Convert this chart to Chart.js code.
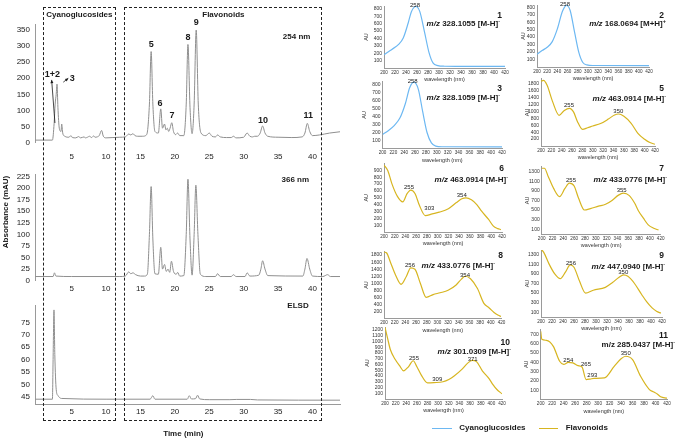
<!DOCTYPE html>
<html>
<head>
<meta charset="utf-8">
<script src="https://cdn.jsdelivr.net/npm/chart.js@4.4.1/dist/chart.umd.min.js"></script>
<style>
  body { margin: 0; background: #fff; }
  #page { position: relative; width: 678px; height: 440px; overflow: hidden; font-family: Arial, "Liberation Sans", sans-serif; color: #1a1a1a; }
  #page canvas { position: absolute; }
  .dashbox { position: absolute; border: 1px dashed #222; box-sizing: border-box; }
  .txt { position: absolute; font-weight: bold; font-size: 8px; line-height: 10px; white-space: nowrap; }
  .cap sup { font-size: 5.5px; vertical-align: 3px; line-height: 0; }
  .num { font-size: 8.5px; }
  .leg-line { position: absolute; height: 1.6px; }
</style>
</head>
<body>
<div id="page"></div>
<script>
// ---- chromatograms: retention time (min) / signal ----
const t254 = [-0.3, 2.2, 2.45, 2.6, 2.75, 2.87, 3.0, 3.2, 3.45, 3.55, 3.7, 4.0, 4.6, 4.9, 5.1, 5.6, 6.0, 6.3, 6.8, 7.0, 7.3, 7.6, 7.9, 8.2, 8.4, 8.7, 9.0, 9.35, 9.6, 10.0, 11.0, 12.0, 12.8, 13.3, 13.6, 13.9, 14.2, 14.6, 15.3, 15.9, 16.3, 16.55, 16.8, 17.1, 17.6, 17.95, 18.2, 18.5, 18.7, 18.9, 19.1, 19.3, 19.55, 19.8, 20.1, 20.4, 20.7, 21.3, 21.65, 21.9, 22.2, 22.5, 22.8, 23.1, 23.4, 23.8, 24.5, 25.0, 25.4, 25.9, 26.2, 26.6, 27.5, 28.2, 28.5, 28.9, 30.0, 30.5, 30.9, 31.3, 31.6, 32.0, 32.4, 32.75, 33.1, 33.5, 35, 37, 38.5, 38.9, 39.25, 39.6, 40.0, 41.0, 42.5, 44];
const a254 = [8, 8, 60, 120, 150, 182, 110, 45, 35, 58, 30, 20, 17, 22, 16, 15, 19, 15, 18, 15, 17, 20, 16, 21, 17, 18, 22, 38, 20, 15, 16, 17, 18, 27, 24, 28, 22, 20, 20, 25, 120, 283, 120, 35, 30, 105, 45, 58, 40, 45, 35, 45, 62, 35, 25, 30, 22, 22, 120, 305, 110, 28, 120, 350, 120, 30, 22, 30, 20, 18, 24, 18, 16, 16, 20, 15, 17, 30, 20, 18, 20, 20, 30, 52, 30, 20, 17, 16, 18, 30, 60, 35, 22, 24, 30, 34];

const t366 = [-0.3, 2.3, 2.5, 2.7, 5, 12, 12.8, 13.3, 13.6, 13.9, 14.3, 15.0, 15.6, 16.0, 16.3, 16.55, 16.8, 17.1, 17.6, 17.95, 18.2, 18.5, 18.75, 19.0, 19.25, 19.5, 19.8, 20.2, 20.4, 20.7, 21.3, 21.65, 21.9, 22.2, 22.5, 22.8, 23.05, 23.35, 23.7, 24.5, 25.9, 26.2, 26.6, 28.2, 28.5, 28.9, 30.2, 30.5, 30.9, 32.2, 32.5, 32.75, 33.1, 33.5, 38.6, 38.9, 39.2, 39.6, 40.0, 41.5, 42.2, 42.6, 44];
const a366 = [9, 9, 17, 10, 9, 9, 10, 19, 15, 17, 13, 10, 10, 14, 100, 203, 90, 15, 14, 72, 25, 35, 20, 25, 18, 42, 20, 14, 18, 10, 11, 100, 219, 90, 12, 100, 206, 100, 14, 9, 9, 15, 9, 9, 13, 9, 9, 17, 10, 12, 25, 43, 25, 11, 10, 25, 48, 25, 10, 9, 13, 9, 9];

const tElsd = [-0.3, 2.2, 2.3, 2.43, 2.55, 2.75, 3.0, 3.5, 10, 16.4, 16.8, 17.1, 21.8, 22.1, 22.4, 23.0, 23.3, 23.6, 25, 28, 29, 31, 32, 44];
const aElsd = [44, 44, 60, 80, 62, 48, 45.5, 44.3, 44, 44, 45.4, 44, 44, 45.4, 44.1, 44.2, 45.6, 44.1, 43.8, 43.8, 43.9, 43.9, 43.7, 43.6];

const timeTicks = [5, 10, 15, 20, 25, 30, 35, 40];
const ticks254 = [0, 50, 100, 150, 200, 250, 300, 350];
const ticks366 = [0, 25, 50, 75, 100, 125, 150, 175, 200, 225];
const ticksElsd = [45, 50, 55, 60, 65, 70, 75];

const peaks254 = [
  { x: 2.2, y: 213, s: '1+2' }, { x: 5.1, y: 200, s: '3' }, { x: 16.55, y: 306, s: '5' },
  { x: 17.85, y: 123, s: '6' }, { x: 19.6, y: 83, s: '7' }, { x: 21.9, y: 328, s: '8' },
  { x: 23.1, y: 372, s: '9' }, { x: 32.8, y: 70, s: '10' }, { x: 39.4, y: 83, s: '11' }
];
const arrows254 = [{ x0: 2.57, y0: 61, x1: 2.09, y1: 195 }, { x0: 3.78, y0: 188, x1: 4.51, y1: 200 }];

// ---- UV spectra: wavelength (nm) / AU ----
const wl1 = [200, 210, 220, 226, 235, 244, 250, 258, 265, 274, 282, 289, 298, 310, 340, 380, 420];
const au1 = [181, 230, 280, 316, 407, 610, 767, 835, 767, 475, 204, 69, 32, 24, 22, 22, 22];
const wl2 = [200, 210, 220, 230, 240, 250, 258, 265, 274, 282, 290, 298, 310, 420];
const au2 = [170, 220, 265, 340, 510, 745, 825, 760, 460, 200, 60, 28, 20, 18];
const wl3 = [200, 210, 222, 232, 242, 250, 258, 266, 274, 282, 290, 298, 310, 420];
const au3 = [175, 220, 290, 380, 560, 760, 830, 740, 460, 200, 70, 30, 22, 20];
const wl5 = [200, 205, 212, 222, 235, 245, 255, 263, 270, 280, 290, 300, 315, 330, 342, 350, 360, 374, 387, 400, 410, 420];
const au5 = [1880, 1900, 1750, 1300, 890, 1030, 1090, 980, 720, 484, 530, 580, 650, 780, 900, 927, 860, 658, 368, 194, 100, 50];
const wl6 = [200, 207, 215, 225, 235, 243, 250, 258, 266, 277, 290, 303, 320, 335, 345, 353, 363, 373, 382, 395, 404, 412, 418];
const au6 = [980, 900, 700, 520, 440, 560, 612, 560, 390, 240, 265, 290, 340, 430, 485, 500, 470, 400, 304, 183, 85, 50, 35];
const wl7 = [200, 205, 212, 222, 233, 243, 251, 260, 268, 279, 290, 305, 318, 330, 342, 351, 362, 372, 379, 388, 397, 407, 416];
const au7 = [1370, 1370, 1200, 950, 780, 950, 1060, 1000, 750, 500, 530, 580, 620, 700, 810, 850, 800, 640, 480, 330, 190, 120, 83];
const wl8 = [200, 205, 212, 222, 232, 242, 250, 258, 268, 279, 292, 305, 320, 335, 345, 352, 362, 375, 387, 397, 406, 414, 419];
const au8 = [1890, 1860, 1600, 1220, 970, 1200, 1440, 1400, 1000, 600, 680, 730, 800, 950, 1120, 1200, 1130, 850, 430, 300, 170, 90, 60];
const wl9 = [200, 205, 215, 225, 235, 245, 253, 260, 270, 281, 295, 317, 330, 342, 350, 358, 370, 383, 392, 402, 410, 418];
const au9 = [1420, 1350, 1100, 900, 800, 950, 1090, 1040, 750, 500, 560, 620, 720, 830, 880, 850, 700, 470, 320, 190, 120, 80];
const wl10 = [200, 205, 210, 219, 228, 235, 244, 253, 260, 268, 280, 292, 309, 320, 330, 345, 355, 364, 372, 383, 396, 403, 410, 420];
const au10 = [1245, 1050, 860, 690, 570, 490, 560, 665, 560, 420, 280, 285, 300, 340, 400, 520, 620, 670, 650, 490, 350, 250, 170, 90];
const wl11 = [200, 202, 210, 222, 233, 240, 248, 256, 265, 272, 279, 286, 293, 311, 328, 340, 348, 360, 374, 389, 397, 403, 409, 420];
const au11 = [735, 650, 638, 573, 412, 378, 400, 395, 365, 350, 215, 220, 228, 233, 358, 440, 466, 430, 250, 110, 80, 60, 29, 15];

const wlTicks = [200, 220, 240, 260, 280, 300, 320, 340, 360, 380, 400, 420];
const auTicks800 = [100, 200, 300, 400, 500, 600, 700, 800];
const auTicks1800 = [200, 400, 600, 800, 1000, 1200, 1400, 1600, 1800];
const auTicks900 = [100, 200, 300, 400, 500, 600, 700, 800, 900];
const auTicks1300 = [100, 300, 500, 700, 900, 1100, 1300];
const auTicks1200 = [100, 200, 300, 400, 500, 600, 700, 800, 900, 1000, 1100, 1200];
const auTicks700 = [100, 200, 300, 400, 500, 600, 700];

const pk1 = [{ x: 256.4, y: 853, s: '258' }];
const pk2 = [{ x: 255, y: 839, s: '258' }];
const pk3 = [{ x: 255.5, y: 844, s: '258' }];
const pk5 = [{ x: 254, y: 1188, s: '255' }, { x: 349.2, y: 994, s: '350' }];
const pk6 = [{ x: 246.6, y: 653, s: '255' }, { x: 284.5, y: 346, s: '303' }, { x: 344.9, y: 531, s: '354' }];
const pk7 = [{ x: 254.2, y: 1110, s: '255' }, { x: 347.9, y: 902, s: '355' }];
const pk8 = [{ x: 248.7, y: 1500, s: '256' }, { x: 351.7, y: 1236, s: '354' }];
const pk9 = [{ x: 254.5, y: 1131, s: '256' }, { x: 349.6, y: 923, s: '350' }];
const pk10 = [{ x: 254.5, y: 708, s: '255' }, { x: 298.3, y: 348, s: '309' }, { x: 364.9, y: 696, s: '371' }];
const pk11 = [{ x: 248.1, y: 426, s: '254' }, { x: 278.9, y: 379, s: '265' }, { x: 289.9, y: 256, s: '293' }, { x: 348.1, y: 498, s: '350' }];

const compoundNo = ['1', '2', '3', '5', '6', '7', '8', '9', '10', '11'];
const ionMass = ['328.1055', '168.0694', '328.1059', '463.0914', '463.0914', '433.0776', '433.0776', '447.0940', '301.0309', '285.0437'];
const ionForm = ['[M-H]', '[M+H]', '[M-H]', '[M-H]', '[M-H]', '[M-H]', '[M-H]', '[M-H]', '[M-H]', '[M-H]'];
const ionCharge = ['-', '+', '-', '-', '-', '-', '-', '-', '-', '-'];

const BLUE = '#6db8f2';
const GOLD = '#d7b520';
const TRACE = '#8f8f8f';
const AXIS = '#9a9a9a';
const FONT = 'Arial, "Liberation Sans", sans-serif';

Chart.defaults.font.family = FONT;
Chart.defaults.color = '#222';

const page = document.getElementById('page');

function addCanvas(x, y, w, h) {
  const c = document.createElement('canvas');
  c.width = w; c.height = h;
  c.style.left = x + 'px'; c.style.top = y + 'px';
  c.style.width = w + 'px'; c.style.height = h + 'px';
  page.appendChild(c);
  return c;
}

function addText(html, cls, css) {
  const d = document.createElement('div');
  d.className = cls;
  d.innerHTML = html;
  Object.assign(d.style, css);
  page.appendChild(d);
  return d;
}

function textPlugin(items, font, arrows, tag) {
  return {
    id: 'peakText',
    afterDatasetsDraw(chart) {
      const { ctx, scales: { x, y } } = chart;
      ctx.save();
      ctx.fillStyle = '#1a1a1a';
      ctx.strokeStyle = '#1a1a1a';
      ctx.textAlign = 'center';
      ctx.textBaseline = 'middle';
      ctx.font = font;
      items.forEach(it => ctx.fillText(it.s, x.getPixelForValue(it.x), y.getPixelForValue(it.y)));
      if (tag) {
        ctx.font = 'bold 8px ' + FONT;
        ctx.fillText(tag.s, x.getPixelForValue(tag.x), y.getPixelForValue(tag.y));
      }
      (arrows || []).forEach(a => {
        const x0 = x.getPixelForValue(a.x0), y0 = y.getPixelForValue(a.y0);
        const x1 = x.getPixelForValue(a.x1), y1 = y.getPixelForValue(a.y1);
        const ang = Math.atan2(y1 - y0, x1 - x0);
        ctx.lineWidth = 0.8;
        ctx.beginPath(); ctx.moveTo(x0, y0); ctx.lineTo(x1, y1); ctx.stroke();
        ctx.beginPath();
        ctx.moveTo(x1, y1);
        ctx.lineTo(x1 - 3.5 * Math.cos(ang - 0.45), y1 - 3.5 * Math.sin(ang - 0.45));
        ctx.lineTo(x1 - 3.5 * Math.cos(ang + 0.45), y1 - 3.5 * Math.sin(ang + 0.45));
        ctx.closePath(); ctx.fill();
      });
      ctx.restore();
    }
  };
}

function setTicks(values) {
  return scale => { scale.ticks = values.map(v => ({ value: v })); };
}

// ---- left: three chromatograms ----
function chromChart(c) {
  const cv = addCanvas(0, c.top, 345, c.height);
  const area = { l: 35, r: 340, t: c.areaTop, b: c.areaBottom };
  return new Chart(cv, {
    type: 'line',
    data: {
      datasets: [{
        data: c.times.map((t, i) => ({ x: t, y: c.values[i] })),
        borderColor: TRACE, borderWidth: 1, pointRadius: 0,
        cubicInterpolationMode: 'monotone', fill: false
      }]
    },
    options: {
      responsive: false, animation: false, events: [],
      layout: { padding: { left: 0, top: area.t - c.top, right: 345 - area.r, bottom: 0 } },
      plugins: { legend: { display: false }, tooltip: { enabled: false } },
      scales: {
        x: {
          type: 'linear', min: -0.33, max: 44,
          afterBuildTicks: setTicks(timeTicks),
          afterFit: s => { s.height = c.top + c.height - area.b; },
          grid: { display: false, drawTicks: false },
          border: { display: c.xBorder, color: AXIS, width: 1 },
          ticks: { font: { size: 8 }, padding: c.xPad, autoSkip: false, maxRotation: 0, callback: v => String(v) }
        },
        y: {
          min: c.yMin, max: c.yMax,
          afterBuildTicks: setTicks(c.yTicks),
          afterFit: s => { s.width = area.l; },
          grid: { display: false, drawTicks: false },
          border: { display: true, color: AXIS, width: 1 },
          ticks: { font: { size: 8 }, padding: 5, autoSkip: false, callback: v => String(v) }
        }
      }
    },
    plugins: [textPlugin(c.labels, 'bold 9px ' + FONT, c.arrows, c.tag)]
  });
}

const c1 = chromChart({ top: 0, height: 165, areaTop: 24, areaBottom: 142.7, times: t254, values: a254,
  yMin: 0, yMax: 368.6, yTicks: ticks254, xPad: 9, xBorder: false, labels: peaks254, arrows: arrows254,
  tag: { x: 37.7, y: 329, s: '254 nm' } });
chromChart({ top: 165, height: 130, areaTop: 171.7, areaBottom: 280.7, times: t366, values: a366,
  yMin: 0, yMax: 228.4, yTicks: ticks366, xPad: 2.8, xBorder: false, labels: [],
  tag: { x: 37.5, y: 216.6, s: '366 nm' } });
chromChart({ top: 295, height: 145, areaTop: 305, areaBottom: 404, times: tElsd, values: aElsd,
  yMin: 42.06, yMax: 81.98, yTicks: ticksElsd, xPad: 3.2, xBorder: true, labels: [],
  tag: { x: 37.9, y: 81.6, s: 'ELSD' } });

// dashed region boxes, placed on the time axis
const regions = [[0.8, 11.45, 'Cyanoglucosides'], [12.65, 41.45, 'Flavonoids']];
regions.forEach(([a, b, name]) => {
  const x1 = c1.scales.x.getPixelForValue(a);
  const x2 = c1.scales.x.getPixelForValue(b);
  addText('', 'dashbox', { left: x1 + 'px', top: '7px', width: (x2 - x1) + 'px', height: '414px' });
  addText(name, 'txt', { left: x1 + 'px', width: (x2 - x1) + 'px', textAlign: 'center', top: '10.3px' });
});

addText('Absorbance (mAU)', 'txt', { left: '-44.5px', top: '207px', width: '100px', textAlign: 'center', transform: 'rotate(-90deg)' });
addText('Time (min)', 'txt', { left: '133.3px', top: '429.3px', width: '100px', textAlign: 'center' });

// ---- right: UV spectra ----
const spectraPanels = [
  { wl: wl1, au: au1, color: BLUE, yTicks: auTicks800, max: 840, peaks: pk1, l: 384, r: 505, t: 6, b: 68, col: 0, numAt: [502, 15], ionAt: [500, 24] },
  { wl: wl2, au: au2, color: BLUE, yTicks: auTicks800, max: 830, peaks: pk2, l: 537, r: 649, t: 4, b: 67, col: 1, numAt: [664, 15], ionAt: [666, 24] },
  { wl: wl3, au: au3, color: BLUE, yTicks: auTicks800, max: 840, peaks: pk3, l: 382.5, r: 502, t: 81.3, b: 148.5, col: 0, numAt: [502, 87.7], ionAt: [500, 98.3] },
  { wl: wl5, au: au5, color: GOLD, yTicks: auTicks1800, max: 1950, peaks: pk5, l: 541, r: 655, t: 78.7, b: 146, col: 1, numAt: [664, 88.3], ionAt: [666, 99.3] },
  { wl: wl6, au: au6, color: GOLD, yTicks: auTicks900, max: 1000, peaks: pk6, l: 384, r: 502, t: 163.6, b: 232, col: 0, numAt: [504, 168.3], ionAt: [508, 180] },
  { wl: wl7, au: au7, color: GOLD, yTicks: auTicks1300, max: 1400, peaks: pk7, l: 541.7, r: 660.7, t: 166.8, b: 234, col: 1, numAt: [664, 168.3], ionAt: [667, 180] },
  { wl: wl8, au: au8, color: GOLD, yTicks: auTicks1800, max: 1900, peaks: pk8, l: 384, r: 501.5, t: 251.6, b: 318.5, col: 0, numAt: [503, 255], ionAt: [495, 266] },
  { wl: wl9, au: au9, color: GOLD, yTicks: auTicks1300, max: 1400, peaks: pk9, l: 541, r: 662, t: 250, b: 317, col: 1, numAt: [664, 255], ionAt: [665, 266.7] },
  { wl: wl10, au: au10, color: GOLD, yTicks: auTicks1200, max: 1250, peaks: pk10, l: 385, r: 502, t: 327.1, b: 399, col: 0, numAt: [510, 341.7], ionAt: [511, 352.3] },
  { wl: wl11, au: au11, color: GOLD, yTicks: auTicks700, max: 760, peaks: pk11, l: 540.7, r: 667, t: 329, b: 399.5, col: 1, numAt: [668, 335], ionAt: [675, 345] }
];

spectraPanels.forEach((p, i) => {
  const x = Math.floor(p.l - 26);
  const y = Math.max(0, Math.floor(p.t - 8));
  const right = Math.min(678, Math.ceil(p.r + 16));
  const bottom = Math.ceil(p.b + 17);
  const cv = addCanvas(x, y, right - x, bottom - y);
  const auCenter = p.l - (p.col ? 14 : 18);
  new Chart(cv, {
    type: 'line',
    data: {
      datasets: [{
        data: p.wl.map((w, k) => ({ x: w, y: p.au[k] })),
        borderColor: p.color, borderWidth: 1.2, pointRadius: 0,
        cubicInterpolationMode: 'monotone', fill: false
      }]
    },
    options: {
      responsive: false, animation: false, events: [],
      layout: { padding: { left: 0, top: p.t - y, right: right - p.r, bottom: 0 } },
      plugins: { legend: { display: false }, tooltip: { enabled: false } },
      scales: {
        x: {
          type: 'linear', min: 200, max: 420,
          afterBuildTicks: setTicks(wlTicks),
          afterFit: s => { s.height = bottom - p.b; },
          grid: { display: false, drawTicks: false },
          border: { color: AXIS, width: 1 },
          ticks: { font: { size: 4.6 }, color: '#333', padding: 1.5, autoSkip: false, maxRotation: 0, minRotation: 0, callback: v => String(v) },
          title: { display: true, text: 'wavelength (nm)', font: { size: 5.5 }, color: '#333', padding: { top: 0, bottom: (bottom - p.b) - 11.5 - 3.3 } }
        },
        y: {
          min: 0, max: p.max,
          afterBuildTicks: setTicks(p.yTicks),
          afterFit: s => { s.width = p.l - x; },
          grid: { display: false, drawTicks: false },
          border: { color: AXIS, width: 1 },
          ticks: { font: { size: 5 }, color: '#333', padding: 2, autoSkip: false, callback: v => String(v) },
          title: { display: true, text: 'AU', font: { size: 5.5 }, color: '#333', padding: { top: auCenter - x - 3.3, bottom: 0 } }
        }
      }
    },
    plugins: [textPlugin(p.peaks, '6px ' + FONT)]
  });

  addText(compoundNo[i], 'txt num', { right: (678 - p.numAt[0]) + 'px', top: (p.numAt[1] - 5) + 'px' });
  const mz = i === 9 ? 'm/z' : '<i>m/z</i>';
  addText(mz + ' ' + ionMass[i] + ' ' + ionForm[i] + '<sup>' + ionCharge[i] + '</sup>', 'txt cap',
    { right: (678 - p.ionAt[0]) + 'px', top: (p.ionAt[1] - 5) + 'px' });
});

// ---- legend ----
const legendItems = [['Cyanoglucosides', BLUE, 431.7, 451.7, 459.3], ['Flavonoids', GOLD, 539.3, 558.3, 565.7]];
legendItems.forEach(([name, color, x1, x2, tx]) => {
  addText('', 'leg-line', { left: x1 + 'px', width: (x2 - x1) + 'px', top: '427.5px', background: color });
  addText(name, 'txt', { left: tx + 'px', top: '423.3px' });
});
</script>
</body>
</html>
